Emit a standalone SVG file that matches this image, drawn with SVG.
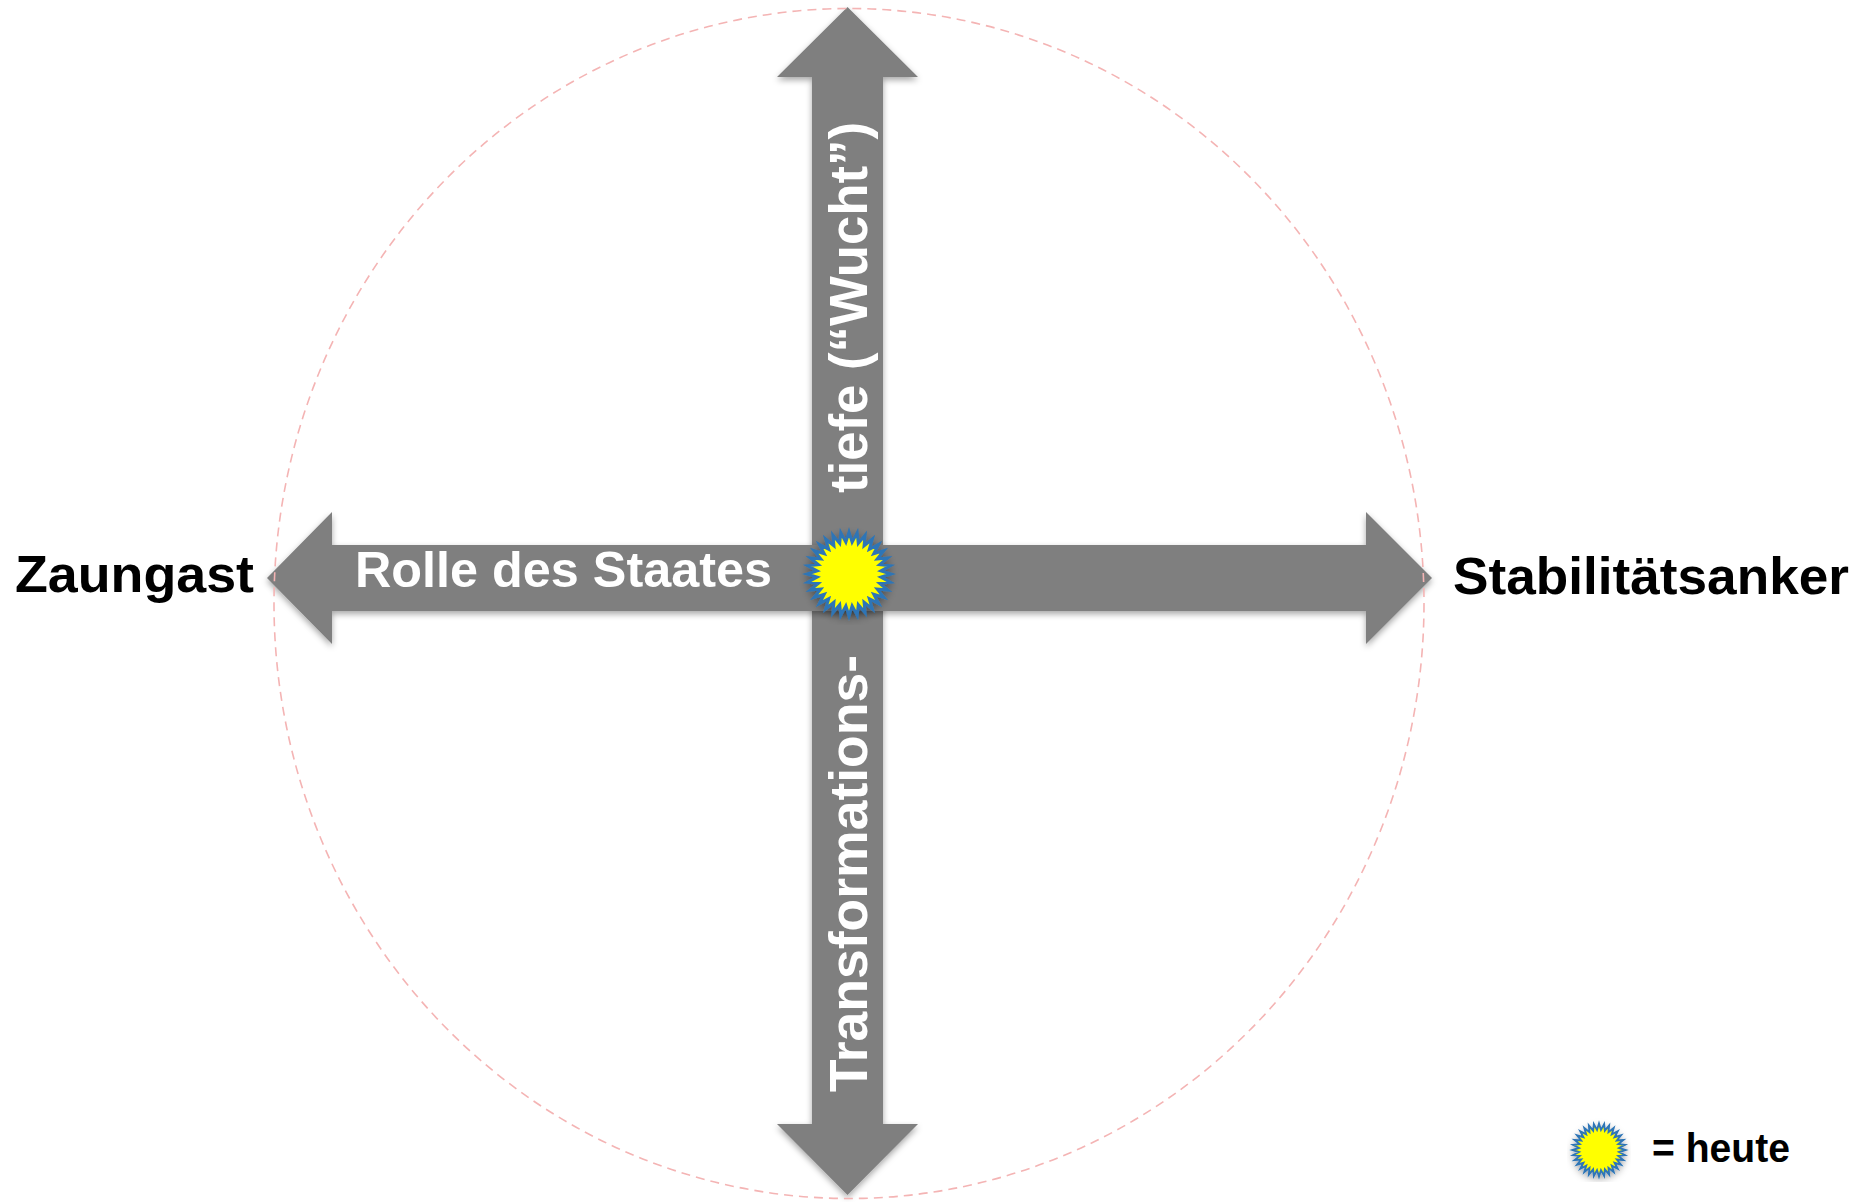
<svg xmlns="http://www.w3.org/2000/svg" xmlns:xlink="http://www.w3.org/1999/xlink" width="1869" height="1202" viewBox="0 0 1869 1202">
<style>
.arrow{fill:#7f7f7f;filter:url(#shadow)}
.lbl{font-family:"Liberation Sans",Arial,sans-serif;font-weight:bold}
.white{fill:#ffffff}
.black{fill:#000000}
.ring{fill:none;stroke:#f4b4b4;stroke-width:1.6;stroke-dasharray:9 6}
.sun{fill:#ffff00;stroke:#2e75b6;stroke-width:3;stroke-linejoin:miter;stroke-miterlimit:10}
</style>
<defs>
<filter id="shadow" x="-10%" y="-10%" width="120%" height="120%">
<feDropShadow dx="0" dy="3" stdDeviation="3" flood-color="#000" flood-opacity="0.35"/>
</filter>
<polygon id="star" class="sun" points="42,0 31.85,3.14 41.19,8.19 30.62,9.29 38.80,16.07 28.22,15.08 34.92,23.33 24.74,20.30 29.70,29.70 20.30,24.74 23.33,34.92 15.08,28.22 16.07,38.80 9.29,30.62 8.19,41.19 3.14,31.85 0,42 -3.14,31.85 -8.19,41.19 -9.29,30.62 -16.07,38.80 -15.08,28.22 -23.33,34.92 -20.30,24.74 -29.70,29.70 -24.74,20.30 -34.92,23.33 -28.22,15.08 -38.80,16.07 -30.62,9.29 -41.19,8.19 -31.85,3.14 -42,0 -31.85,-3.14 -41.19,-8.19 -30.62,-9.29 -38.80,-16.07 -28.22,-15.08 -34.92,-23.33 -24.74,-20.30 -29.70,-29.70 -20.30,-24.74 -23.33,-34.92 -15.08,-28.22 -16.07,-38.80 -9.29,-30.62 -8.19,-41.19 -3.14,-31.85 0,-42 3.14,-31.85 8.19,-41.19 9.29,-30.62 16.07,-38.80 15.08,-28.22 23.33,-34.92 20.30,-24.74 29.70,-29.70 24.74,-20.30 34.92,-23.33 28.22,-15.08 38.80,-16.07 30.62,-9.29 41.19,-8.19 31.85,-3.14"/>
</defs>
<rect width="1869" height="1202" fill="#ffffff"/>
<g id="connectors">
<polygon id="vertical-axis" class="arrow" points="847.5,7 918,77 883,77 883,1124 918,1124 847.5,1195 777,1124 812,1124 812,77 777,77"/>
<polygon id="horizontal-axis" class="arrow" points="267,578 332,512 332,545 1366,545 1366,512 1432,578 1366,644 1366,611 332,611 332,644"/>
</g>
<g id="axis-labels">
<text class="lbl white" x="355" y="587" font-size="50" textLength="417" lengthAdjust="spacingAndGlyphs">Rolle des Staates</text>
<text class="lbl white" x="867" y="493" font-size="54" transform="rotate(-90 867 493)" textLength="371" lengthAdjust="spacingAndGlyphs">tiefe (“Wucht”)</text>
<text class="lbl white" x="867" y="1092" font-size="54" transform="rotate(-90 867 1092)" textLength="437" lengthAdjust="spacingAndGlyphs">Transformations-</text>
</g>
<g id="node-zaungast">
<text class="lbl black" x="15" y="592" font-size="52" textLength="239" lengthAdjust="spacingAndGlyphs">Zaungast</text>
</g>
<g id="node-stabilitaetsanker">
<text class="lbl black" x="1453" y="594" font-size="52" textLength="396" lengthAdjust="spacingAndGlyphs">Stabilitätsanker</text>
</g>
<ellipse id="boundary" class="ring" cx="849" cy="603.5" rx="575" ry="595"/>
<g id="node-heute-marker" filter="url(#shadow)">
<use xlink:href="#star" transform="translate(849 574)"/>
</g>
<g id="legend">
<g filter="url(#shadow)"><use xlink:href="#star" transform="translate(1599 1150) scale(0.63)"/></g>
<text class="lbl black" x="1652" y="1162" font-size="40" textLength="138" lengthAdjust="spacingAndGlyphs">= heute</text>
</g>
</svg>
